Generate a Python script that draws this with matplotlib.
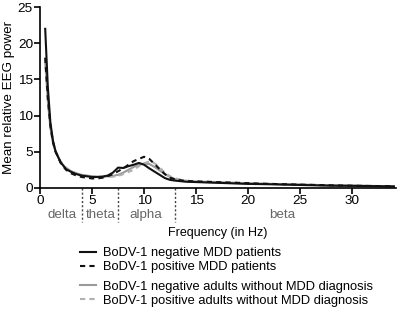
import matplotlib
matplotlib.use("Agg")
import matplotlib.pyplot as plt
from matplotlib.transforms import blended_transform_factory

plt.rcParams['font.family'] = ['Liberation Sans', 'DejaVu Sans']

freq = [0.5, 0.75, 1.0, 1.25, 1.5, 2, 2.5, 3, 3.5, 4, 4.5, 5, 5.5, 6, 6.5, 7, 7.5, 8, 8.5,
        9, 9.5, 10, 10.5, 11, 11.5, 12, 12.5, 13, 14, 15, 16, 18, 20, 22, 25, 28, 30, 34]

neg_mdd = [22, 14, 9, 6.5, 5, 3.5, 2.6, 2.2, 1.9, 1.7, 1.6, 1.5, 1.5, 1.55, 1.7, 2.1, 2.8, 2.75, 3.0,
           3.2, 3.45, 3.2, 2.7, 2.25, 1.8, 1.35, 1.1, 1.0, 0.85, 0.8, 0.75, 0.65, 0.55, 0.5, 0.4, 0.3, 0.28, 0.2]
pos_mdd = [18, 12.5, 8.5, 6.3, 5, 3.4, 2.5, 2.0, 1.7, 1.5, 1.4, 1.3, 1.3, 1.4, 1.6, 1.9, 2.3, 2.7, 3.2,
           3.7, 4.0, 4.3, 4.0, 3.3, 2.6, 1.9, 1.4, 1.15, 0.95, 0.9, 0.85, 0.75, 0.65, 0.55, 0.45, 0.35, 0.3, 0.22]
neg_ctrl = [17.5, 12, 8.3, 6.2, 5, 3.5, 2.7, 2.3, 2.0, 1.8, 1.7, 1.6, 1.55, 1.55, 1.6, 1.65, 1.8, 2.1, 2.5,
            2.9, 3.2, 3.35, 3.3, 2.9, 2.4, 1.9, 1.5, 1.2, 0.95, 0.85, 0.8, 0.7, 0.6, 0.55, 0.45, 0.35, 0.3, 0.22]
pos_ctrl = [18, 12.5, 8.5, 6.4, 5.1, 3.6, 2.8, 2.3, 2.0, 1.8, 1.7, 1.6, 1.55, 1.5, 1.5, 1.55, 1.65, 1.9, 2.2,
            2.5, 3.0, 3.4, 3.65, 3.4, 2.8, 2.1, 1.6, 1.3, 1.0, 0.9, 0.85, 0.75, 0.65, 0.55, 0.45, 0.35, 0.3, 0.22]

labels = ["BoDV-1 negative MDD patients", "BoDV-1 positive MDD patients",
          "BoDV-1 negative adults without MDD diagnosis", "BoDV-1 positive adults without MDD diagnosis"]
band_edges = [4, 7.5, 13]
band_names = ["delta", "theta", "alpha", "beta"]
band_pos = [2.1, 5.8, 10.2, 23.3]

fig = plt.figure(figsize=(4.0, 3.1), dpi=100)
ax = fig.add_axes([0.1, 0.394, 0.89, 0.583])

l_nc, = ax.plot(freq, neg_ctrl, color='#9a9a9a', lw=1.5)
l_pc, = ax.plot(freq, pos_ctrl, color='#b0b0b0', lw=1.5, ls=(0, (2.5, 2)))
l_nm, = ax.plot(freq, neg_mdd, color='#111111', lw=1.5)
l_pm, = ax.plot(freq, pos_mdd, color='#111111', lw=1.5, ls=(0, (2.5, 2)))

ax.set_xlim(0, 34.2)
ax.set_ylim(0, 25)
ax.set_xticks([0, 5, 10, 15, 20, 25, 30])
ax.set_yticks([0, 5, 10, 15, 20, 25])
for s in ['top', 'right']:
    ax.spines[s].set_visible(False)
for s in ['left', 'bottom']:
    ax.spines[s].set_linewidth(1.2)
ax.tick_params(direction='out', length=4, width=1.2, labelsize=9.7, pad=1)
ax.set_ylabel("Mean relative EEG power", fontsize=9.6, labelpad=2)

trans = blended_transform_factory(ax.transData, ax.transAxes)
for e in band_edges:
    ax.plot([e, e], [0, -0.19], transform=trans, clip_on=False, color='#444444',
            lw=1.0, ls=(0, (1.5, 1.5)))
for n, p in zip(band_names, band_pos):
    ax.text(p, -0.15, n, transform=trans, ha='center', va='center', fontsize=9.6, color='#666666')

fig.text(0.545, 0.248, "Frequency (in Hz)", ha='center', va='center', fontsize=9)

kw = dict(frameon=False, fontsize=9.3, handlelength=1.2, handletextpad=0.55,
          labelspacing=0.16, borderpad=0, borderaxespad=0, loc='center left')
fig.legend([l_nm, l_pm], labels[:2], bbox_to_anchor=(0.2, 0.160), **kw)
fig.legend([l_nc, l_pc], labels[2:], bbox_to_anchor=(0.2, 0.052), **kw)

fig.savefig("out.png", dpi=100)
